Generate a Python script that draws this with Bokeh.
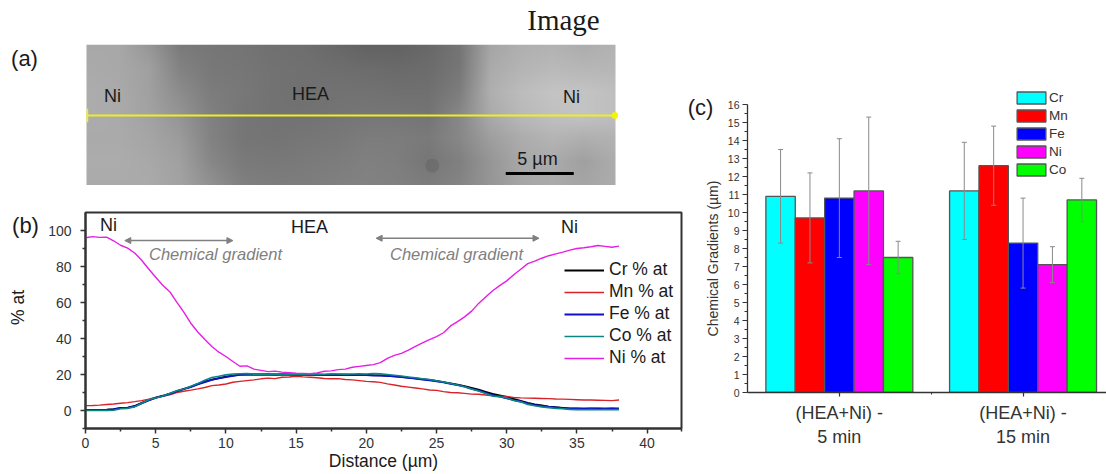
import math
import numpy as np
from bokeh.embed import file_html
from bokeh.resources import INLINE
from bokeh.plotting import figure
from bokeh.layouts import row, column
from bokeh.models import (Arrow, ColumnDataSource, FixedTicker, Label, Legend, LegendItem, LinearColorMapper,
                          NormalHead, Range1d, TeeHead, Whisker)
from bokeh.palettes import gray

# ---------- panel (b): line profiles ----------
distance = [0,.5,1,1.5,2,2.5,3,3.5,4,4.5,5,5.5,6,6.5,7,7.5,8,8.5,9,9.5,10,10.5,11,11.5,12,12.5,13,13.5,14,14.5,15,15.5,16,16.5,17,17.5,18,18.5,19,19.5,
            20,20.5,21,21.5,22,22.5,23,23.5,24,24.5,25,25.5,26,26.5,27,27.5,28,28.5,29,29.5,30,30.5,31,31.5,32,32.5,33,33.5,34,34.5,35,35.5,36,36.5,37,37.5,38]
ni = [96,96.6,96.2,96.3,94.3,91.8,90.2,87.5,83.5,78.6,74,69.6,66,60.2,54.6,48.5,43.6,39.4,35.6,32.4,30,27.2,24.6,24.8,23,22.3,21.6,21.9,21.3,21,20.7,20.6,20.4,20.9,21.8,22,22.7,23,24,24.5,
      25,25.5,26.6,29,30.6,31.7,33.5,35.6,37.6,39.4,41,43.2,47,49.4,52,55.2,59.5,63,66.5,69.4,72,75.4,78.5,81.6,83,84.6,86,87,88,89.1,90,90.4,91,91.7,91.2,90.7,91.3]
mn = [2.7,2.8,3,3.3,3.6,4,4.4,4.9,5.5,6.3,7.3,7.9,8.7,10,10.7,11.3,12,12.8,13.8,14.2,14.7,15.7,16.2,16.6,17,17.6,18,17.7,18.5,18.6,19,18.7,18.5,18.2,17.8,17.6,17.7,17.2,17,16.6,
      16.2,16,15.6,14.8,14.2,13.5,13,12.5,12,11.4,11.2,10.5,10,9.9,9.5,9.1,9,8.6,8.2,8,7.8,7.2,7,6.9,6.8,6.7,6.6,6.4,6.3,6.2,6,5.8,5.8,5.7,5.6,5.5,5.8]
co = [0,0,0,0,.1,1,1.2,2,4,6,7,8,9.5,11,12,13.5,15,16.8,18.3,19,19.8,20.3,20.4,20.5,20.2,20.3,20,20.2,20,20.1,20,20,20.1,20.2,20.1,20.3,20.3,20.2,20.3,20.4,
      20.3,20.5,20.4,20,19.6,19.2,18.6,18.2,17.6,17.2,16.5,15.8,15,14.2,13.2,12,10.8,9.4,8,7.6,7,5.6,4.8,3.4,2.6,2,1.6,1.2,1,.6,.5,.4,.5,.4,.5,.4,.5]
fe = [.3,.3,.4,.4,.6,1.3,1.5,2.3,4,5.6,7,8,9.2,10.6,11.8,13,14.5,15.8,17,17.8,18.5,19.2,19.8,20,20,19.9,20,19.8,20,19.9,19.8,19.9,19.8,19.9,19.7,19.8,19.7,19.8,19.7,19.6,
      19.7,19.4,19.4,19.2,19,18.6,18.1,17.7,17.2,16.8,16.2,15.6,14.8,14.1,13.2,12,11,9.8,8.6,7.7,6.8,5.8,5,3.9,3,2.5,2,1.7,1.3,1,1,1,1,1.1,1,1,1]
cr = [.4,.4,.4,.5,.7,1.4,1.6,2.5,4.2,5.8,7.2,8.2,9.4,10.8,12,13.2,14.8,16,17.2,18,18.8,19.4,19.9,20.1,20,20,20.1,20,20,20,19.9,20,20,19.9,19.8,20,19.9,19.9,19.8,19.8,
      19.8,19.6,19.5,19.3,19,18.7,18.3,17.9,17.4,17,16.4,15.8,15.1,14.4,13.6,12.6,11.6,10.4,9.2,8.4,7.6,6.4,5.4,4.2,3.4,2.8,2.2,1.8,1.5,1.2,1.1,1,1.1,1,1,1.1,1]

# ---------- panel (c): bars ----------
conditions = ["(HEA+Ni) -\n5 min", "(HEA+Ni) -\n15 min"]
elements = ["Cr", "Mn", "Fe", "Ni", "Co"]
cr_grad = [10.9, 11.2]; cr_hi = [13.5, 13.9]; cr_lo = [8.3, 8.5]
mn_grad = [9.7, 12.6];  mn_hi = [12.2, 14.8]; mn_lo = [7.2, 10.4]
fe_grad = [10.8, 8.3];  fe_hi = [14.1, 10.8]; fe_lo = [7.5, 5.8]
ni_grad = [11.2, 7.1];  ni_hi = [15.3, 8.1];  ni_lo = [7.1, 6.1]
co_grad = [7.5, 10.7];  co_hi = [8.4, 11.9];  co_lo = [6.6, 9.5]

# ---------- panel (a): micrograph brightness, read on a coarse grid, top row first ----------
micrograph = [
    [168,168,150,122,118,116,112,110,104, 98, 98,104,116,165,175,178,172,178],
    [170,168,160,130,120,118,114,112,110,108,106,108,118,170,180,185,182,182],
    [172,170,160,140,124,120,114,112,114,114,112,112,125,175,188,195,195,190],
    [172,170,162,148,128,118,114,114,116,118,118,116,135,170,185,192,195,190],
    [170,170,165,155,130,118,116,118,120,124,124,122,135,158,172,180,175,178],
    [172,172,168,160,135,122,120,122,124,128,126,118,128,150,168,170,160,172],
    [170,170,170,162,145,128,125,125,128,130,128,125,132,150,165,170,165,172],
]

SANS = "Liberation Sans"
INK = "#1a1a1a"
AXC = "#333333"


def screen_label(p, fx, fy, text, size, color=INK, style="normal", font=SANS, angle=0, side=None):
    """fx, fy: offset in px from the lower-left corner of the frame, or of the side panel named by `side`."""
    lab = Label(x=fx, y=fy, x_units="screen", y_units="screen", text=text, text_font=font,
                text_font_size=f"{size}px", text_color=color, text_font_style=style,
                text_align="center", text_baseline="middle", angle=angle)
    if side:
        p.add_layout(lab, side)
    else:
        p.add_layout(lab)


LEFT_W = 686
F_L, F_W = 85, 596            # both left panels share their frame's horizontal extent

# ---------- figure (a) ----------
HA, FA_T, FA_H = 185, 44, 141
UM = 13.6                     # pixels per micrometre of the micrograph
IMG_W, IMG_H = 529 / UM, FA_H / UM
IMG_X = 1 / UM
pa = figure(width=LEFT_W, height=HA, output_backend="svg", toolbar_location=None,
            x_range=Range1d(0, F_W / UM), y_range=Range1d(0, IMG_H),
            min_border_left=F_L, min_border_right=LEFT_W - F_L - F_W,
            min_border_top=FA_T, min_border_bottom=HA - FA_T - FA_H,
            x_axis_location=None, y_axis_location=None, outline_line_color=None)
pa.grid.visible = False
grid = np.array(micrograph, dtype=float)
nx, ny = 530, 141
xs = np.linspace(0, grid.shape[1] - 1, nx)
ys = np.linspace(0, grid.shape[0] - 1, ny)
by_col = np.array([np.interp(xs, np.arange(grid.shape[1]), r) for r in grid])
img = np.array([np.interp(ys, np.arange(grid.shape[0]), by_col[:, j]) for j in range(nx)]).T
pa.image(image=[img[::-1]], x=IMG_X, y=0, dw=IMG_W, dh=IMG_H,
         color_mapper=LinearColorMapper(palette=gray(256), low=0, high=255))
pa.scatter(x=[25.5], y=[1.45], size=14, color="#333333", alpha=0.14, line_color=None)
pa.segment(x0=[IMG_X], y0=[5.15], x1=[IMG_X + IMG_W], y1=[5.15], line_color="#eeee22", line_width=2)
pa.segment(x0=[IMG_X + 0.05], y0=[4.65], x1=[IMG_X + 0.05], y1=[5.65], line_color="#e6e66a", line_width=2)
pa.scatter(x=[IMG_X + IMG_W - 0.05], y=[5.15], size=6, color="#f4f400")
pa.segment(x0=[30.9], y0=[0.88], x1=[35.9], y1=[0.88], line_color="black", line_width=3)
screen_label(pa, 27, 90, "Ni", 18)
screen_label(pa, 225, 92, "HEA", 18)
screen_label(pa, 486, 89, "Ni", 18)
screen_label(pa, 452, 27, "5 µm", 18)
screen_label(pa, -34, 127, "(a)", 22, side="left")
screen_label(pa, 478, 25, "Image", 29, font="Liberation Serif", side="above")

# ---------- figure (b) ----------
FB_T, FB_H = 27, 216
HB = 289
pb = figure(width=LEFT_W, height=HB, output_backend="svg", toolbar_location=None,
            x_range=Range1d(0, 42.45), y_range=Range1d(-10, 110),
            min_border_left=F_L, min_border_right=LEFT_W - F_L - F_W,
            min_border_top=FB_T, min_border_bottom=HB - FB_T - FB_H,
            outline_line_color=AXC, outline_line_width=2)
pb.grid.visible = False
curves = [("Cr % at", cr, "#000000", 1.8), ("Mn % at", mn, "#d8232a", 1.4), ("Fe % at", fe, "#1010c8", 1.8),
          ("Co % at", co, "#0b8585", 1.6), ("Ni % at", ni, "#e61ee6", 1.4)]
items = []
for name, vals, col, lw in curves:
    r = pb.line(distance, vals, line_color=col, line_width=lw)
    items.append(LegendItem(label=name, renderers=[r]))
lb = Legend(items=items, location=(479, 60), glyph_width=40, glyph_height=16, label_height=16, spacing=1,
            label_standoff=5, padding=0, margin=0, background_fill_alpha=0, border_line_alpha=0,
            label_text_font=SANS, label_text_font_size="17.5px", label_text_color=INK)
pb.add_layout(lb)
for ax in (pb.xaxis[0], pb.yaxis[0]):
    ax.axis_line_color = AXC
    ax.axis_line_width = 2
    ax.major_tick_line_color = AXC
    ax.minor_tick_line_color = AXC
    ax.major_tick_line_width = 1.5
    ax.minor_tick_line_width = 1.5
    ax.major_tick_out = 5
    ax.major_tick_in = 0
    ax.minor_tick_out = 3
    ax.minor_tick_in = 0
    ax.major_label_text_font = SANS
    ax.major_label_text_font_size = "14px"
    ax.major_label_text_color = AXC
    ax.axis_label_text_font = SANS
    ax.axis_label_text_font_size = "17.5px"
    ax.axis_label_text_font_style = "normal"
    ax.axis_label_text_color = INK
pb.xaxis[0].ticker = FixedTicker(ticks=[0, 5, 10, 15, 20, 25, 30, 35, 40],
                                 minor_ticks=[2.5, 7.5, 12.5, 17.5, 22.5, 27.5, 32.5, 37.5, 42.45])
pb.yaxis[0].ticker = FixedTicker(ticks=[0, 20, 40, 60, 80, 100], minor_ticks=[-10, 10, 30, 50, 70, 90])
pb.xaxis[0].axis_label = "Distance (µm)"
pb.xaxis[0].axis_label_standoff = 0
pb.xaxis[0].major_label_standoff = 4
pb.yaxis[0].major_label_standoff = 9
arrow_head = dict(size=6, fill_color="#808080", line_color="#808080")
for x0, x1, y in [(2.8, 10.5, 94.4), (20.7, 32.3, 95.7)]:
    pb.add_layout(Arrow(x_start=x0, x_end=x1, y_start=y, y_end=y, line_color="#808080", line_width=1.5,
                        start=NormalHead(**arrow_head), end=NormalHead(**arrow_head)))
screen_label(pb, 23, 204, "Ni", 18)
screen_label(pb, 224, 202, "HEA", 18)
screen_label(pb, 484, 202, "Ni", 18)
screen_label(pb, 130, 175, "Chemical gradient", 16.5, color="#808080", style="italic")
screen_label(pb, 371, 175, "Chemical gradient", 16.5, color="#808080", style="italic")
screen_label(pb, -60, -13, "(b)", 22, side="above")
screen_label(pb, -8, 121, "% at", 17.5, angle=math.pi / 2, side="left")

# ---------- figure (c) ----------
FC_L, FC_T, FC_H = 61, 88, 304
HC, WC = 474, 420
PX_PER_UM = 18
pc = figure(width=WC, height=HC, output_backend="svg", toolbar_location=None,
            x_range=Range1d(0.5, 0.5 + 359 / 183.7), y_range=Range1d(0, FC_H / PX_PER_UM),
            min_border_left=FC_L, min_border_right=0, min_border_top=FC_T, min_border_bottom=HC - FC_T - FC_H,
            outline_line_color=None)
pc.grid.visible = False
series = [("Cr", cr_grad, cr_hi, cr_lo, "#00ffff"), ("Mn", mn_grad, mn_hi, mn_lo, "#ff0000"),
          ("Fe", fe_grad, fe_hi, fe_lo, "#0000ff"), ("Ni", ni_grad, ni_hi, ni_lo, "#ff00ff"),
          ("Co", co_grad, co_hi, co_lo, "#00ff00")]
BW = 0.16
citems = []
for i, (name, vals, hi, lo, col) in enumerate(series):
    xpos = [k + 1 + (i - 2) * BW for k in range(len(conditions))]
    src = ColumnDataSource(dict(x=xpos, top=vals, hi=hi, lo=lo))
    r = pc.vbar(x="x", top="top", bottom=0, width=BW, source=src, fill_color=col,
                line_color="#555555", line_width=1.3)
    citems.append(LegendItem(label=name, renderers=[r]))
for i, (name, vals, hi, lo, col) in enumerate(series):
    xpos = [k + 1 + (i - 2) * BW for k in range(len(conditions))]
    src = ColumnDataSource(dict(x=xpos, hi=hi, lo=lo))
    pc.add_layout(Whisker(source=src, base="x", upper="hi", lower="lo", line_color="#8a8a8a", line_width=1,
                          level="annotation",
                          upper_head=TeeHead(size=5, line_color="#8a8a8a", line_width=1),
                          lower_head=TeeHead(size=5, line_color="#8a8a8a", line_width=1)))
lc = Legend(items=citems, location=(266, 215), glyph_width=36, glyph_height=15, label_height=15, spacing=3,
            label_standoff=0, padding=0, margin=0, background_fill_alpha=0, border_line_alpha=0,
            label_text_font=SANS, label_text_font_size="13.5px", label_text_color=AXC)
pc.add_layout(lc)
for ax in (pc.xaxis[0], pc.yaxis[0]):
    ax.axis_line_color = AXC
    ax.axis_line_width = 1.3
    ax.major_tick_line_color = AXC
    ax.minor_tick_line_color = AXC
    ax.major_tick_line_width = 1.2
    ax.minor_tick_line_width = 1
    ax.major_tick_in = 0
    ax.minor_tick_in = 0
    ax.major_label_text_font = SANS
    ax.major_label_text_color = AXC
pc.xaxis[0].ticker = FixedTicker(ticks=[1, 2], minor_ticks=[1.5])
pc.xaxis[0].major_label_overrides = {k + 1: c for k, c in enumerate(conditions)}
pc.xaxis[0].major_label_text_font_size = "18px"
pc.xaxis[0].major_tick_out = 4
pc.xaxis[0].minor_tick_out = 2
pc.xaxis[0].major_label_standoff = 6
pc.yaxis[0].bounds = (0, 16)
pc.yaxis[0].ticker = FixedTicker(ticks=list(range(17)), minor_ticks=[v + 0.5 for v in range(16)])
pc.yaxis[0].major_label_text_font_size = "10.5px"
pc.yaxis[0].major_tick_out = 5
pc.yaxis[0].minor_tick_out = 3
pc.yaxis[0].major_label_standoff = 3
screen_label(pc, 4, 134, "Chemical Gradients (µm)", 14, color=AXC, angle=math.pi / 2, side="left")
screen_label(pc, -47, -19, "(c)", 22, side="above")

layout = row(column(pa, pb, spacing=0), pc, spacing=0)
open("out.html", "w").write(file_html(layout, INLINE))
